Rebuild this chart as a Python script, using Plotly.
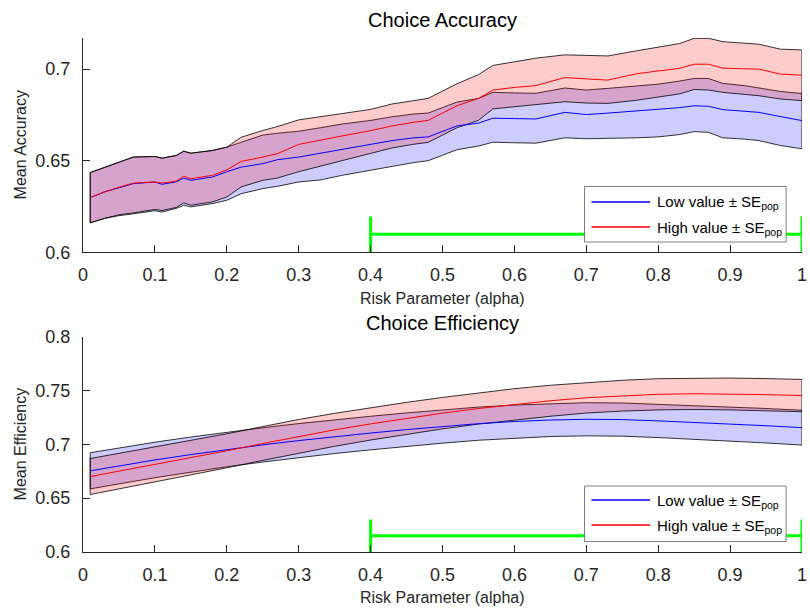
import plotly.graph_objects as go

# ---------------- Choice Accuracy (top panel) ----------------
alpha_acc = [0.01, 0.03, 0.05, 0.07, 0.10, 0.11, 0.13, 0.14, 0.15, 0.18, 0.20, 0.22,
             0.25, 0.27, 0.30, 0.33, 0.36, 0.40, 0.43, 0.46, 0.48, 0.50, 0.52, 0.55,
             0.57, 0.60, 0.63, 0.67, 0.70, 0.73, 0.77, 0.80, 0.83, 0.85, 0.87, 0.89,
             0.92, 0.94, 0.97, 1.00]

acc_low_mean = [0.6299, 0.6330, 0.6352, 0.6375, 0.6384, 0.6371, 0.6385, 0.6405, 0.6393, 0.6411, 0.6440, 0.6465,
                0.6484, 0.6505, 0.6520, 0.6540, 0.6560, 0.6590, 0.6610, 0.6625, 0.6630, 0.6660, 0.6690, 0.6705,
                0.6732, 0.6730, 0.6728, 0.6764, 0.6752, 0.6760, 0.6772, 0.6779, 0.6790, 0.6800, 0.6797, 0.6779,
                0.6770, 0.6764, 0.6741, 0.6719]
acc_low_upper = [0.6435, 0.6463, 0.6490, 0.6520, 0.6523, 0.6514, 0.6529, 0.6552, 0.6541, 0.6556, 0.6574, 0.6601,
                 0.6640, 0.6650, 0.6661, 0.6680, 0.6700, 0.6720, 0.6740, 0.6755, 0.6760, 0.6790, 0.6820, 0.6840,
                 0.6873, 0.6870, 0.6868, 0.6897, 0.6886, 0.6895, 0.6910, 0.6918, 0.6935, 0.6949, 0.6949, 0.6922,
                 0.6910, 0.6897, 0.6878, 0.6867]
acc_low_lower = [0.6161, 0.6185, 0.6200, 0.6210, 0.6227, 0.6220, 0.6240, 0.6257, 0.6248, 0.6266, 0.6284, 0.6320,
                 0.6348, 0.6360, 0.6384, 0.6395, 0.6420, 0.6450, 0.6470, 0.6490, 0.6500, 0.6530, 0.6560, 0.6580,
                 0.6601, 0.6598, 0.6596, 0.6625, 0.6620, 0.6622, 0.6625, 0.6630, 0.6643, 0.6659, 0.6655, 0.6625,
                 0.6618, 0.6610, 0.6583, 0.6565]

acc_high_mean = [0.6299, 0.6330, 0.6355, 0.6378, 0.6384, 0.6378, 0.6389, 0.6415, 0.6402, 0.6420, 0.6450, 0.6496,
                 0.6520, 0.6538, 0.6589, 0.6610, 0.6635, 0.6664, 0.6690, 0.6710, 0.6720, 0.6760, 0.6800, 0.6840,
                 0.6886, 0.6900, 0.6910, 0.6954, 0.6945, 0.6940, 0.6975, 0.6990, 0.7005, 0.7027, 0.7027, 0.7005,
                 0.7000, 0.7000, 0.6973, 0.6967]
acc_high_upper = [0.6435, 0.6463, 0.6490, 0.6520, 0.6523, 0.6514, 0.6529, 0.6552, 0.6541, 0.6556, 0.6574, 0.6628,
                  0.6665, 0.6686, 0.6723, 0.6740, 0.6760, 0.6780, 0.6810, 0.6830, 0.6840, 0.6880, 0.6920, 0.6970,
                  0.7020, 0.7040, 0.7060, 0.7078, 0.7075, 0.7072, 0.7100, 0.7120, 0.7140, 0.7168, 0.7168, 0.7150,
                  0.7140, 0.7136, 0.7109, 0.7105]
acc_high_lower = [0.6161, 0.6185, 0.6205, 0.6215, 0.6234, 0.6228, 0.6245, 0.6270, 0.6257, 0.6275, 0.6302, 0.6357,
                  0.6393, 0.6405, 0.6440, 0.6470, 0.6500, 0.6540, 0.6570, 0.6590, 0.6600, 0.6640, 0.6680, 0.6720,
                  0.6783, 0.6795, 0.6805, 0.6822, 0.6815, 0.6813, 0.6830, 0.6846, 0.6865, 0.6889, 0.6886, 0.6873,
                  0.6862, 0.6855, 0.6837, 0.6828]

# ---------------- Choice Efficiency (bottom panel) ----------------
alpha_eff = [0.01, 0.05, 0.10, 0.15, 0.20, 0.25, 0.30, 0.35, 0.40, 0.45, 0.50,
             0.55, 0.60, 0.65, 0.70, 0.75, 0.80, 0.85, 0.90, 0.95, 1.00]
eff_low_mean = [0.6754, 0.6800, 0.6855, 0.6905, 0.6952, 0.6995, 0.7035, 0.7072, 0.7105, 0.7137, 0.7165,
                0.7192, 0.7212, 0.7226, 0.7233, 0.7230, 0.7218, 0.7205, 0.7190, 0.7173, 0.7155]
eff_low_se = [0.0168, 0.0167, 0.0165, 0.0163, 0.0160, 0.0159, 0.0158, 0.0157, 0.0156, 0.0155, 0.0154,
              0.0154, 0.0153, 0.0153, 0.0154, 0.0154, 0.0155, 0.0156, 0.0158, 0.0160, 0.0162]
eff_high_mean = [0.6701, 0.6750, 0.6812, 0.6875, 0.6940, 0.7008, 0.7075, 0.7135, 0.7190, 0.7242, 0.7290,
                 0.7333, 0.7372, 0.7405, 0.7433, 0.7452, 0.7465, 0.7470, 0.7468, 0.7462, 0.7453]
eff_high_se = [0.0167, 0.0165, 0.0162, 0.0160, 0.0158, 0.0157, 0.0156, 0.0153, 0.0150, 0.0148, 0.0146,
               0.0145, 0.0145, 0.0144, 0.0142, 0.0143, 0.0145, 0.0146, 0.0148, 0.0149, 0.0150]

# Range of alpha over which the groups differ (green bar)
sig_range = [0.4, 1.0]

x_ticks = [0, 0.1, 0.2, 0.3, 0.4, 0.5, 0.6, 0.7, 0.8, 0.9, 1.0]
x_ticktext = ["0", "0.1", "0.2", "0.3", "0.4", "0.5", "0.6", "0.7", "0.8", "0.9", "1"]
acc_yticks = [0.6, 0.65, 0.7]
acc_yticktext = ["0.6", "0.65", "0.7"]
eff_yticks = [0.6, 0.65, 0.7, 0.75, 0.8]
eff_yticktext = ["0.6", "0.65", "0.7", "0.75", "0.8"]

W, H = 810, 608
ML, MR, MT, MB = 83, 3, 38, 56
PW, PH = W - ML - MR, H - MT - MB


def paper_x(px):
    return (px - ML) / PW


def paper_y(py):
    return (H - MB - py) / PH


TOP_DOMAIN = [paper_y(252.3), 1.0]
BOT_DOMAIN = [0.0, paper_y(336.7)]

FONT = "Liberation Sans, Arial, Helvetica, sans-serif"
AX_COL = "#262626"
BLUE_FILL = "rgba(0,0,255,0.2)"
RED_FILL = "rgba(255,0,0,0.2)"
GREEN = "#00ff00"

fig = go.Figure()


def band(x, lo, hi, fill, xa, ya):
    """Closed polygon between lower and upper bound, outlined in black."""
    xs = list(x) + list(x[::-1]) + [x[0]]
    ys = list(hi) + list(lo[::-1]) + [hi[0]]
    fig.add_trace(go.Scatter(x=xs, y=ys, mode="lines", fill="toself", fillcolor=fill,
                             line=dict(color="black", width=0.8), hoverinfo="skip",
                             showlegend=False, xaxis=xa, yaxis=ya))


def mean_line(x, y, color, xa, ya):
    fig.add_trace(go.Scatter(x=x, y=y, mode="lines", line=dict(color=color, width=1),
                             showlegend=False, xaxis=xa, yaxis=ya))


# top panel
band(alpha_acc, acc_low_lower, acc_low_upper, BLUE_FILL, "x", "y")
band(alpha_acc, acc_high_lower, acc_high_upper, RED_FILL, "x", "y")
mean_line(alpha_acc, acc_low_mean, "blue", "x", "y")
mean_line(alpha_acc, acc_high_mean, "red", "x", "y")

# bottom panel: mean +/- SE
eff_low_lo = [m - s for m, s in zip(eff_low_mean, eff_low_se)]
eff_low_hi = [m + s for m, s in zip(eff_low_mean, eff_low_se)]
eff_high_lo = [m - s for m, s in zip(eff_high_mean, eff_high_se)]
eff_high_hi = [m + s for m, s in zip(eff_high_mean, eff_high_se)]

band(alpha_eff, eff_low_lo, eff_low_hi, BLUE_FILL, "x2", "y2")
band(alpha_eff, eff_high_lo, eff_high_hi, RED_FILL, "x2", "y2")
mean_line(alpha_eff, eff_low_mean, "blue", "x2", "y2")
mean_line(alpha_eff, eff_high_mean, "red", "x2", "y2")

# green bars with end caps
for xa, ya, yc, half in (("x", "y", 0.6098, 0.0098), ("x2", "y2", 0.6151, 0.0151)):
    fig.add_trace(go.Scatter(x=sig_range, y=[yc, yc], mode="lines",
                             line=dict(color=GREEN, width=3), showlegend=False, xaxis=xa, yaxis=ya))
    for xv in sig_range:
        fig.add_trace(go.Scatter(x=[xv, xv], y=[yc - half, yc + half], mode="lines",
                                 line=dict(color=GREEN, width=3), showlegend=False,
                                 xaxis=xa, yaxis=ya))

xaxis_common = dict(range=[0, 1], tickvals=x_ticks, ticktext=x_ticktext, ticks="inside",
                    ticklen=7, tickcolor=AX_COL, showline=True, linecolor=AX_COL, linewidth=1,
                    showgrid=False, zeroline=False, tickfont=dict(family=FONT, size=18, color=AX_COL),
                    ticklabelstandoff=6, ticklabeloverflow="allow")
yaxis_common = dict(ticks="inside", ticklen=7, tickcolor=AX_COL, showline=True, linecolor=AX_COL,
                    linewidth=1, showgrid=False, zeroline=False,
                    tickfont=dict(family=FONT, size=18, color=AX_COL), ticklabelstandoff=8)

fig.update_layout(
    width=W, height=H, margin=dict(l=ML, r=MR, t=MT, b=MB),
    paper_bgcolor="white", plot_bgcolor="white", showlegend=False,
    xaxis=dict(domain=[0, 1], anchor="y", **xaxis_common),
    yaxis=dict(domain=TOP_DOMAIN, anchor="x", range=[0.6, 0.717], tickvals=acc_yticks,
               ticktext=acc_yticktext, **yaxis_common),
    xaxis2=dict(domain=[0, 1], anchor="y2", **xaxis_common),
    yaxis2=dict(domain=BOT_DOMAIN, anchor="x2", range=[0.6, 0.8], tickvals=eff_yticks,
                ticktext=eff_yticktext, **yaxis_common),
)

annotations = []
shapes = []


def text(px, py, s, size, color="black", angle=0, xanchor="center"):
    annotations.append(dict(x=paper_x(px), y=paper_y(py), xref="paper", yref="paper", text=s,
                            showarrow=False, textangle=angle, xanchor=xanchor, yanchor="middle",
                            font=dict(family=FONT, size=size, color=color)))


text(445, 20, "Choice Accuracy", 20)
text(445, 323, "Choice Efficiency", 20)
text(445, 298, "Risk Parameter (alpha)", 16, AX_COL)
text(445, 597, "Risk Parameter (alpha)", 16, AX_COL)
text(20, 145, "Mean Accuracy", 16, AX_COL, angle=-90)
text(20, 444, "Mean Efficiency", 16, AX_COL, angle=-90)

# legend boxes drawn above the data
legend_entries = [("#0000ff", "Low value \u00b1 SE<sub>pop</sub>"), ("#ff0000", "High value \u00b1 SE<sub>pop</sub>")]
for top, first_row in ((186.5, 202.0), (486.0, 500.0)):
    shapes.append(dict(type="rect", xref="paper", yref="paper", layer="above",
                       x0=paper_x(588), x1=paper_x(791), y0=paper_y(top), y1=paper_y(top + 55.5),
                       fillcolor="white", line=dict(color="#7f7f7f", width=1)))
    for i, (col, label) in enumerate(legend_entries):
        yy = first_row + i * 25
        shapes.append(dict(type="line", xref="paper", yref="paper", layer="above",
                           x0=paper_x(595), x1=paper_x(654), y0=paper_y(yy), y1=paper_y(yy),
                           line=dict(color=col, width=1.3)))
        text(659, yy + 1, label, 15, "black", xanchor="left")

fig.update_layout(annotations=annotations, shapes=shapes)
fig.write_html("out.html")
